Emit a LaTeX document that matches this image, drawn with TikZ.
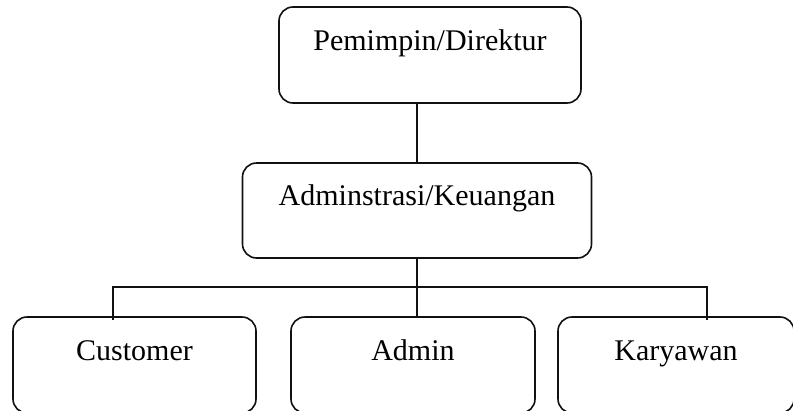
\documentclass[tikz,border=0pt]{standalone}
\usepackage{fontspec}
\setmainfont{Liberation Serif}
\usepackage{xcolor}
\usetikzlibrary{positioning,calc}
\definecolor{ink}{HTML}{111111}
\tikzset{
  orgbox/.style={draw=ink,fill=white,line width=1.6pt,rounded corners=14pt,
                 inner sep=0pt,align=center,font=\fontsize{30}{36}\selectfont},
  linkline/.style={draw=ink,line width=1.6pt}
}

\begin{document}
\begin{tikzpicture}[x=1pt,y=-1pt]
  \useasboundingbox (0,0) rectangle (793,410);
  \clip (0,0) rectangle (793,410);
  % levels
  \node[orgbox,minimum width=302pt,text height=43pt,text depth=53pt] (pimpinan) at (430,55) {Pemimpin/Direktur};
  \node[orgbox,minimum width=349pt,text height=42pt,text depth=53pt] (keuangan) at (417,210.5) {Adminstrasi/Keuangan};
  \node[orgbox,minimum width=243pt,text height=43pt,text depth=53pt] (customer) at (134.5,365) {Customer};
  \node[orgbox,minimum width=244pt,text height=43pt,text depth=53pt] (admin) at (413,365) {Admin};
  \node[orgbox,minimum width=236pt,text height=43pt,text depth=53pt] (karyawan) at (676,365) {Karyawan};
  % bus
  \coordinate (busL) at (113,287);
  \coordinate (busR) at (707,287);
  \draw[linkline] (keuangan.north) -- (keuangan.north |- pimpinan.south);
  \draw[linkline] (keuangan.south) -- (keuangan.south |- admin.north);
  \draw[linkline] ([yshift=-4pt]busL |- customer.north) -- (busL) -- (busR) -- ([yshift=-4pt]busR |- karyawan.north);
\end{tikzpicture}
\end{document}
